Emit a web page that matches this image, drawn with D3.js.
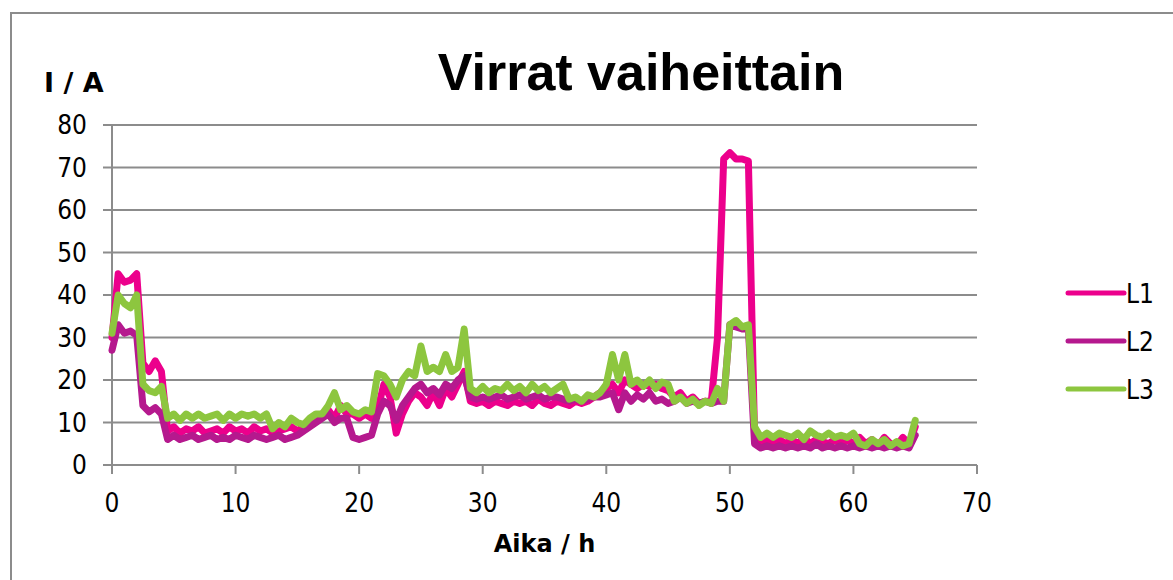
<!DOCTYPE html>
<html>
<head>
<meta charset="utf-8">
<script src="https://cdn.jsdelivr.net/npm/d3@7"></script>
<style>
  body { margin: 0; background: #fff; }
  svg { display: block; }
  .tick-label { font-family: "DejaVu Sans Condensed", "DejaVu Sans", sans-serif; font-size: 26px; fill: #000; }
  .axis-title { font-family: "DejaVu Sans", sans-serif; font-weight: bold; font-size: 24px; fill: #000; }
</style>
</head>
<body>
<div id="chart"></div>
<script>
// hours step through the log (0 .. 65 h, every half hour)
var stepHours = 0.5;

// phase currents, one value per half hour
var L1 = [
  30, 45, 43, 43.5, 45, 24, 22, 24.5, 22, 8,
  9, 7.5, 8.5, 8, 9, 7.5, 8, 8.5, 7.5, 9,
  8, 8.5, 7.5, 9, 8, 8.5, 7.5, 8, 8.5, 9,
  8, 9, 10, 11, 12, 13, 11, 14, 12, 12,
  11, 12, 11, 13, 19, 16, 7.5, 12, 15, 17,
  16, 14, 17, 14, 18, 16, 19, 22, 15, 14.5,
  15, 14, 15, 14.5, 14, 15, 14.5, 15, 14, 15.5,
  14.5, 14, 15, 14.5, 14, 15, 14.5, 15, 16, 17,
  18, 19, 17, 20, 19, 18, 19, 18.5, 19, 18,
  17.5, 16, 17, 15, 16, 14.5, 15, 15, 30, 72,
  73.5, 72, 72, 71.5, 7, 5, 6, 5, 6, 5,
  6, 5, 6.5, 5, 6, 5.5, 5, 6, 5, 6,
  5, 6.5, 5, 6, 4.5, 6.5, 5, 4.5, 6.5, 5,
  9
];
var L2 = [
  27, 33, 31, 31.5, 30.5, 14, 12.5, 13.5, 12, 6,
  7, 6, 6.5, 7, 6, 6.5, 7, 6, 6.5, 6,
  7, 6.5, 6, 7, 6.5, 6, 6.5, 7, 6, 6.5,
  7, 8, 9, 10, 11, 12, 10, 11, 11, 6.5,
  6, 6.5, 7, 12, 15, 14, 10.5, 14, 16, 18,
  19, 17, 18, 16.5, 19, 18, 20, 21, 16, 15.5,
  16, 15.5, 16, 16.5, 15.5, 16, 16.5, 15.5, 16, 16.5,
  15.5, 16, 16, 15.5, 15, 15.5, 15, 15.5, 16, 16,
  16.5, 17, 13, 17, 15, 16.5, 15.5, 17, 15, 15.5,
  14.5, 15, 16, 14.5, 15, 14.5, 15, 14.5, 15, 15,
  33, 32.5, 32, 32, 5, 4, 4.5, 4, 4.5, 4,
  4.5, 4, 4.5, 4, 5, 4, 4.5, 4, 4.5, 4,
  4.5, 4, 4.5, 4, 4.5, 4, 4.5, 4, 4.5, 4,
  7
];
var L3 = [
  31, 40, 38, 37, 40, 19, 17.5, 17, 18.5, 11,
  12, 10.5, 12, 11, 12, 11, 11.5, 12, 10.5, 12,
  11, 12, 11.5, 12, 11, 12, 8.5, 10, 9, 11,
  10, 9.5, 11, 12, 12, 14, 17, 13, 14, 12.5,
  12, 13, 12.5, 21.5, 21, 19, 16, 20, 22, 21,
  28, 22, 23, 22, 26, 22, 23, 32, 18, 17,
  18.5, 17, 18, 17.5, 19, 17.5, 18.5, 17, 19, 17.5,
  18.5, 17, 18, 19, 15.5, 16, 15, 16.5, 16, 17,
  19, 26, 20, 26, 19, 20, 18.5, 20, 18, 19.5,
  19, 15, 16, 14.5, 15.5, 14, 15, 14.5, 18, 15,
  33, 34, 32.5, 33, 9, 6.5, 7.5, 6.5, 7.5, 7,
  6.5, 7.5, 6, 8, 7, 6.5, 7.5, 6.5, 7, 6.5,
  7.5, 5, 4.5, 6, 5, 6, 4.5, 5.5, 4.5, 5,
  10.5
];

var seriesNames = ["L1", "L2", "L3"];
var seriesColors = ["#ec008c", "#b5198e", "#8dc63f"];
var xTicks = [0, 10, 20, 30, 40, 50, 60, 70];
var yTicks = [0, 10, 20, 30, 40, 50, 60, 70, 80];

var W = 1173, H = 580;
var plot = { left: 112, right: 977, top: 125, bottom: 465 };
var gridColor = "#8c8c8c";

var svg = d3.select("#chart").append("svg")
    .attr("width", W)
    .attr("height", H);

// outer frame (right and bottom edges fall off the picture)
svg.append("rect")
    .attr("x", 11).attr("y", 13)
    .attr("width", 1300).attr("height", 700)
    .attr("fill", "none")
    .attr("stroke", gridColor)
    .attr("stroke-width", 2);

var x = d3.scaleLinear().domain([0, 70]).range([plot.left, plot.right]);
var y = d3.scaleLinear().domain([0, 80]).range([plot.bottom, plot.top]);

// horizontal gridlines + y ticks
svg.append("g").selectAll("line")
    .data(yTicks)
  .enter().append("line")
    .attr("x1", plot.left - 9)
    .attr("x2", plot.right)
    .attr("y1", d => y(d))
    .attr("y2", d => y(d))
    .attr("stroke", gridColor)
    .attr("stroke-width", 2);

svg.append("g").selectAll("text")
    .data(yTicks)
  .enter().append("text")
    .attr("class", "tick-label")
    .attr("x", 87)
    .attr("y", d => y(d) + 9)
    .attr("text-anchor", "end")
    .text(d => d);

// y axis line
svg.append("line")
    .attr("x1", plot.left).attr("x2", plot.left)
    .attr("y1", plot.top).attr("y2", plot.bottom)
    .attr("stroke", gridColor)
    .attr("stroke-width", 2);

// x ticks
svg.append("g").selectAll("line")
    .data(xTicks)
  .enter().append("line")
    .attr("x1", d => x(d)).attr("x2", d => x(d))
    .attr("y1", plot.bottom).attr("y2", plot.bottom + 9)
    .attr("stroke", gridColor)
    .attr("stroke-width", 2);

svg.append("g").selectAll("text")
    .data(xTicks)
  .enter().append("text")
    .attr("class", "tick-label")
    .attr("x", d => x(d))
    .attr("y", 512)
    .attr("text-anchor", "middle")
    .text(d => d);

// the three phases, L1 at the back
var line = d3.line()
    .x((d, i) => x(i * stepHours))
    .y(d => y(d));

[L1, L2, L3].forEach(function(values, k) {
    svg.append("path")
        .datum(values)
        .attr("d", line)
        .attr("fill", "none")
        .attr("stroke", seriesColors[k])
        .attr("stroke-width", 7)
        .attr("stroke-linejoin", "round")
        .attr("stroke-linecap", "round");
});

// titles
svg.append("text")
    .attr("x", 641).attr("y", 90)
    .attr("text-anchor", "middle")
    .style("font-family", "'Liberation Sans', Arial, sans-serif")
    .style("font-weight", "bold")
    .style("font-size", "52px")
    .text("Virrat vaiheittain");

svg.append("text")
    .attr("class", "axis-title")
    .attr("x", 44).attr("y", 92)
    .style("font-size", "27px")
    .text("I / A");

svg.append("text")
    .attr("class", "axis-title")
    .attr("x", (plot.left + plot.right) / 2).attr("y", 552)
    .attr("text-anchor", "middle")
    .text("Aika / h");

// legend
var legend = svg.append("g").selectAll("g")
    .data(seriesNames)
  .enter().append("g")
    .attr("transform", (d, i) => "translate(1068," + (293 + i * 48) + ")");

legend.append("line")
    .attr("x1", 0).attr("x2", 56)
    .attr("stroke", (d, i) => seriesColors[i])
    .attr("stroke-width", 5)
    .attr("stroke-linecap", "round");

legend.append("text")
    .attr("class", "tick-label")
    .attr("x", 58)
    .attr("y", 10)
    .text(d => d);
</script>
</body>
</html>
